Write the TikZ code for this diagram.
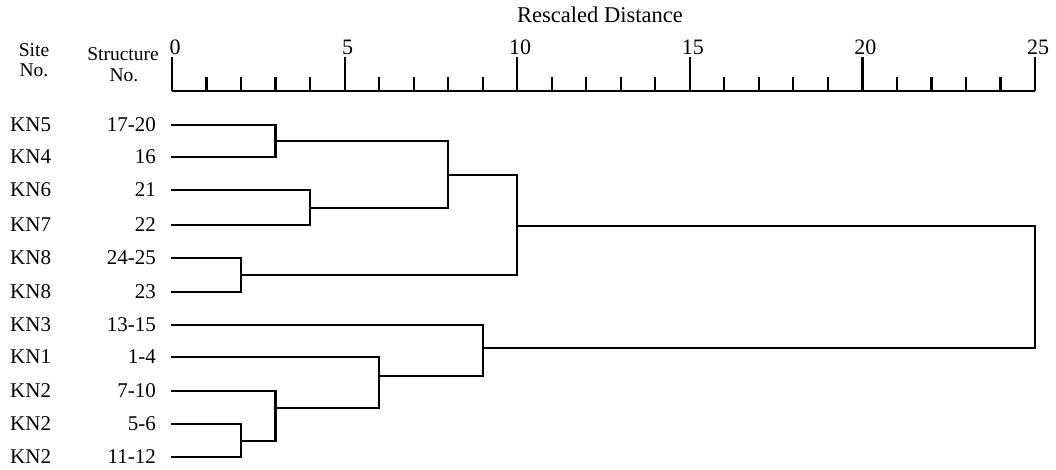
\documentclass[tikz,border=0pt]{standalone}
\usepackage{fontspec}
\setmainfont{Liberation Serif}
\begin{document}
\begin{tikzpicture}[x=1pt,y=-1pt,
  dend/.style={line width=2.2pt, line join=miter},
  axisline/.style={line width=2.2pt},
  lab/.style={font=\fontsize{21}{21}\selectfont, inner sep=0pt},
  hdr/.style={font=\fontsize{19.5}{21}\selectfont, inner sep=0pt, anchor=base},
  num/.style={font=\fontsize{22}{22}\selectfont, inner sep=0pt, anchor=base},
  ttl/.style={font=\fontsize{22.5}{22}\selectfont, inner sep=0pt, anchor=base}]
\useasboundingbox (0,0) rectangle (1056,470);
\def\ux{34.52}
% title
\node[ttl] (title) at (600,23) {Rescaled Distance};
% headers
\node[hdr] (site1) at (34,57) {Site};
\node[hdr] (site2) at (34,77) {No.};
\node[hdr] (struct1) at (123,61) {Structure};
\node[hdr] (struct2) at (124,82) {No.};
% axis
\coordinate (ax0) at (172,91);
\coordinate (ax25) at ({172+25*\ux},91);
\draw[axisline] (ax0) -- (ax25);
\foreach \i in {0,...,25}{
  \pgfmathsetmacro{\xx}{172+\i*\ux}
  \pgfmathtruncatemacro{\r}{mod(\i,5)}
  \ifnum\r=0
    \draw[axisline] (\xx,91) -- (\xx,57);
    \node[num] (t\i) at (\xx+3,55) {\i};
  \else
    \draw[axisline] (\xx,91) -- (\xx,77);
  \fi
}
% leaves
\foreach \n/\y/\s/\t in {1/125/KN5/17-20, 2/157/KN4/16, 3/190/KN6/21, 4/225/KN7/22,
  5/258/KN8/24-25, 6/292/KN8/23, 7/325/KN3/13-15, 8/357/KN1/1-4,
  9/391/KN2/7-10, 10/424/KN2/5-6, 11/457/KN2/11-12}{
  \node[lab, anchor=base west] (s\n) at (10,\y+6.5) {\s};
  \node[lab, anchor=base east] (n\n) at (156,\y+6.5) {\t};
  \coordinate (l\n) at (171,\y);
}
% joins
\coordinate (A) at ({172+3*\ux},141);
\coordinate (B) at ({172+4*\ux},208);
\coordinate (C) at ({172+8*\ux},175);
\coordinate (D) at ({172+2*\ux},275);
\coordinate (E) at ({172+10*\ux},226);
\coordinate (F) at ({172+2*\ux},441);
\coordinate (G) at ({172+3*\ux},408);
\coordinate (H) at ({172+6*\ux},376);
\coordinate (I) at ({172+9*\ux},348);
\coordinate (J) at ({172+25*\ux},287);
\draw[dend] (l1) -- (l1 -| A) -- (l2 -| A) -- (l2);
\draw[dend] (l3) -- (l3 -| B) -- (l4 -| B) -- (l4);
\draw[dend] (A) -- (A -| C) -- (B -| C) -- (B);
\draw[dend] (l5) -- (l5 -| D) -- (l6 -| D) -- (l6);
\draw[dend] (C) -- (C -| E) -- (D -| E) -- (D);
\draw[dend] (l10) -- (l10 -| F) -- (l11 -| F) -- (l11);
\draw[dend] (l9) -- (l9 -| G) -- (F -| G) -- (F);
\draw[dend] (l8) -- (l8 -| H) -- (G -| H) -- (G);
\draw[dend] (l7) -- (l7 -| I) -- (H -| I) -- (H);
\draw[dend] (E) -- (E -| J) -- (I -| J) -- (I);
\end{tikzpicture}
\end{document}
